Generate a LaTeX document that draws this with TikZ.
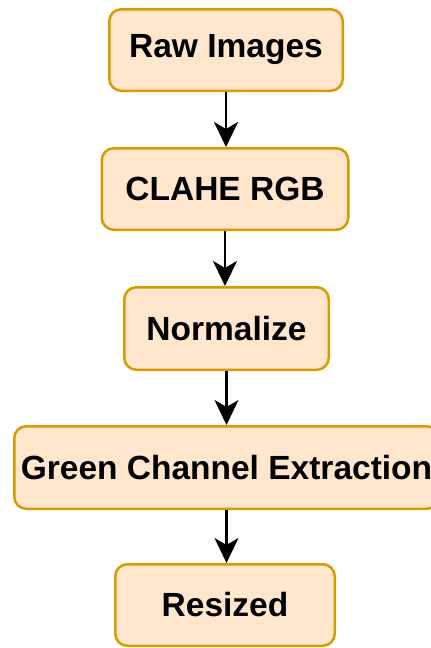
\documentclass[tikz,border=0pt]{standalone}
\usepackage{fontspec}
\setmainfont{Liberation Sans}
\usetikzlibrary{arrows.meta}
\definecolor{boxfill}{HTML}{FFE6CC}
\definecolor{boxdraw}{HTML}{D79B00}
\begin{document}
\begin{tikzpicture}[x=1pt,y=-1pt,
  stepbox/.style={draw=boxdraw, fill=boxfill, line width=2.5pt, rounded corners=12pt,
    inner sep=0pt, minimum height=81.5pt,
    font=\fontsize{33.5}{40}\selectfont\bfseries, text=black},
  arr/.style={draw=black, line width=2.5pt,
    -{Stealth[length=25pt, width=24pt, inset=7pt]}}]
\useasboundingbox (0,0) rectangle (431,648);
\node[stepbox, minimum width=233.5pt] (b1) at (226,50) {Raw Images};
\node[stepbox, minimum width=246.5pt] (b2) at (225,189) {CLAHE RGB};
\node[stepbox, minimum width=204.5pt, minimum height=82.5pt] (b3) at (226.5,328.5) {Normalize};
\node[stepbox, minimum width=424.5pt, minimum height=82.5pt] (b4) at (226.5,467.5) {Green Channel Extraction};
\node[stepbox, minimum width=219.5pt] (b5) at (225,605) {Resized};
\draw[arr] (b1.south) -- (b1.south |- b2.north);
\draw[arr] (b2.south) -- (b2.south |- b3.north);
\draw[arr] (b3.south) -- (b3.south |- b4.north);
\draw[arr] (b4.south) -- (b4.south |- b5.north);
\end{tikzpicture}
\end{document}
